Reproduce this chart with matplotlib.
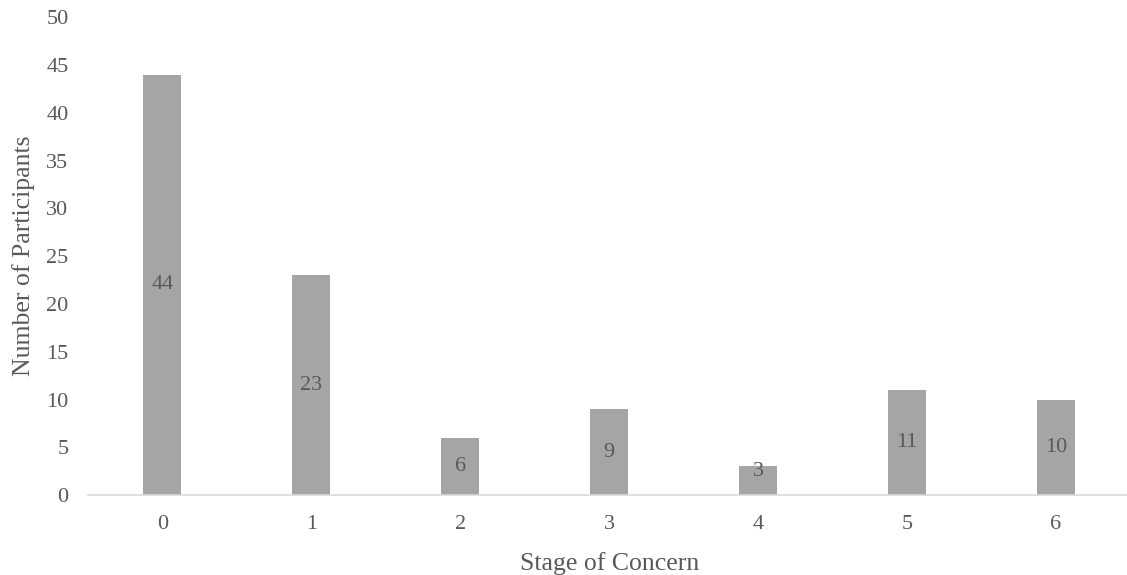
import matplotlib
matplotlib.use("Agg")
import matplotlib.pyplot as plt

stages = ["0", "1", "2", "3", "4", "5", "6"]
participants = [44, 23, 6, 9, 3, 11, 10]
y_ticks = [0, 5, 10, 15, 20, 25, 30, 35, 40, 45, 50]

plt.rcParams["font.family"] = ["Liberation Serif", "DejaVu Serif"]
text_color = "#595959"
bar_color = "#A5A5A5"

fig = plt.figure(figsize=(11.27, 5.75), dpi=100)
ax = fig.add_axes([0.078, 0.139, 0.925, 0.831])

x = list(range(len(stages)))
ax.bar(x, participants, width=0.255, color=bar_color, zorder=2)

# value labels sit mid-bar, lifted a little on very short bars
for xi, v in zip(x, participants):
    ax.text(xi, max(v / 2, 2.5), str(v), ha="center", va="center",
            fontsize=16, color=text_color, zorder=3)

ax.set_xlim(-0.5, 6.5)
ax.set_ylim(0, 50)
ax.set_xticks(x)
ax.set_xticklabels(stages)
ax.set_yticks(y_ticks)

for side in ("top", "right", "left"):
    ax.spines[side].set_visible(False)
ax.spines["bottom"].set_color("#D9D9D9")
ax.spines["bottom"].set_linewidth(1.2)

ax.tick_params(axis="both", length=0, labelsize=16, colors=text_color)
ax.tick_params(axis="x", pad=14)
ax.tick_params(axis="y", pad=14)

ax.set_xlabel("Stage of Concern", fontsize=18.5, color=text_color, labelpad=13)
ax.set_ylabel("Number of Participants", fontsize=18.5, color=text_color, labelpad=8)

fig.savefig("out.png", dpi=100)
